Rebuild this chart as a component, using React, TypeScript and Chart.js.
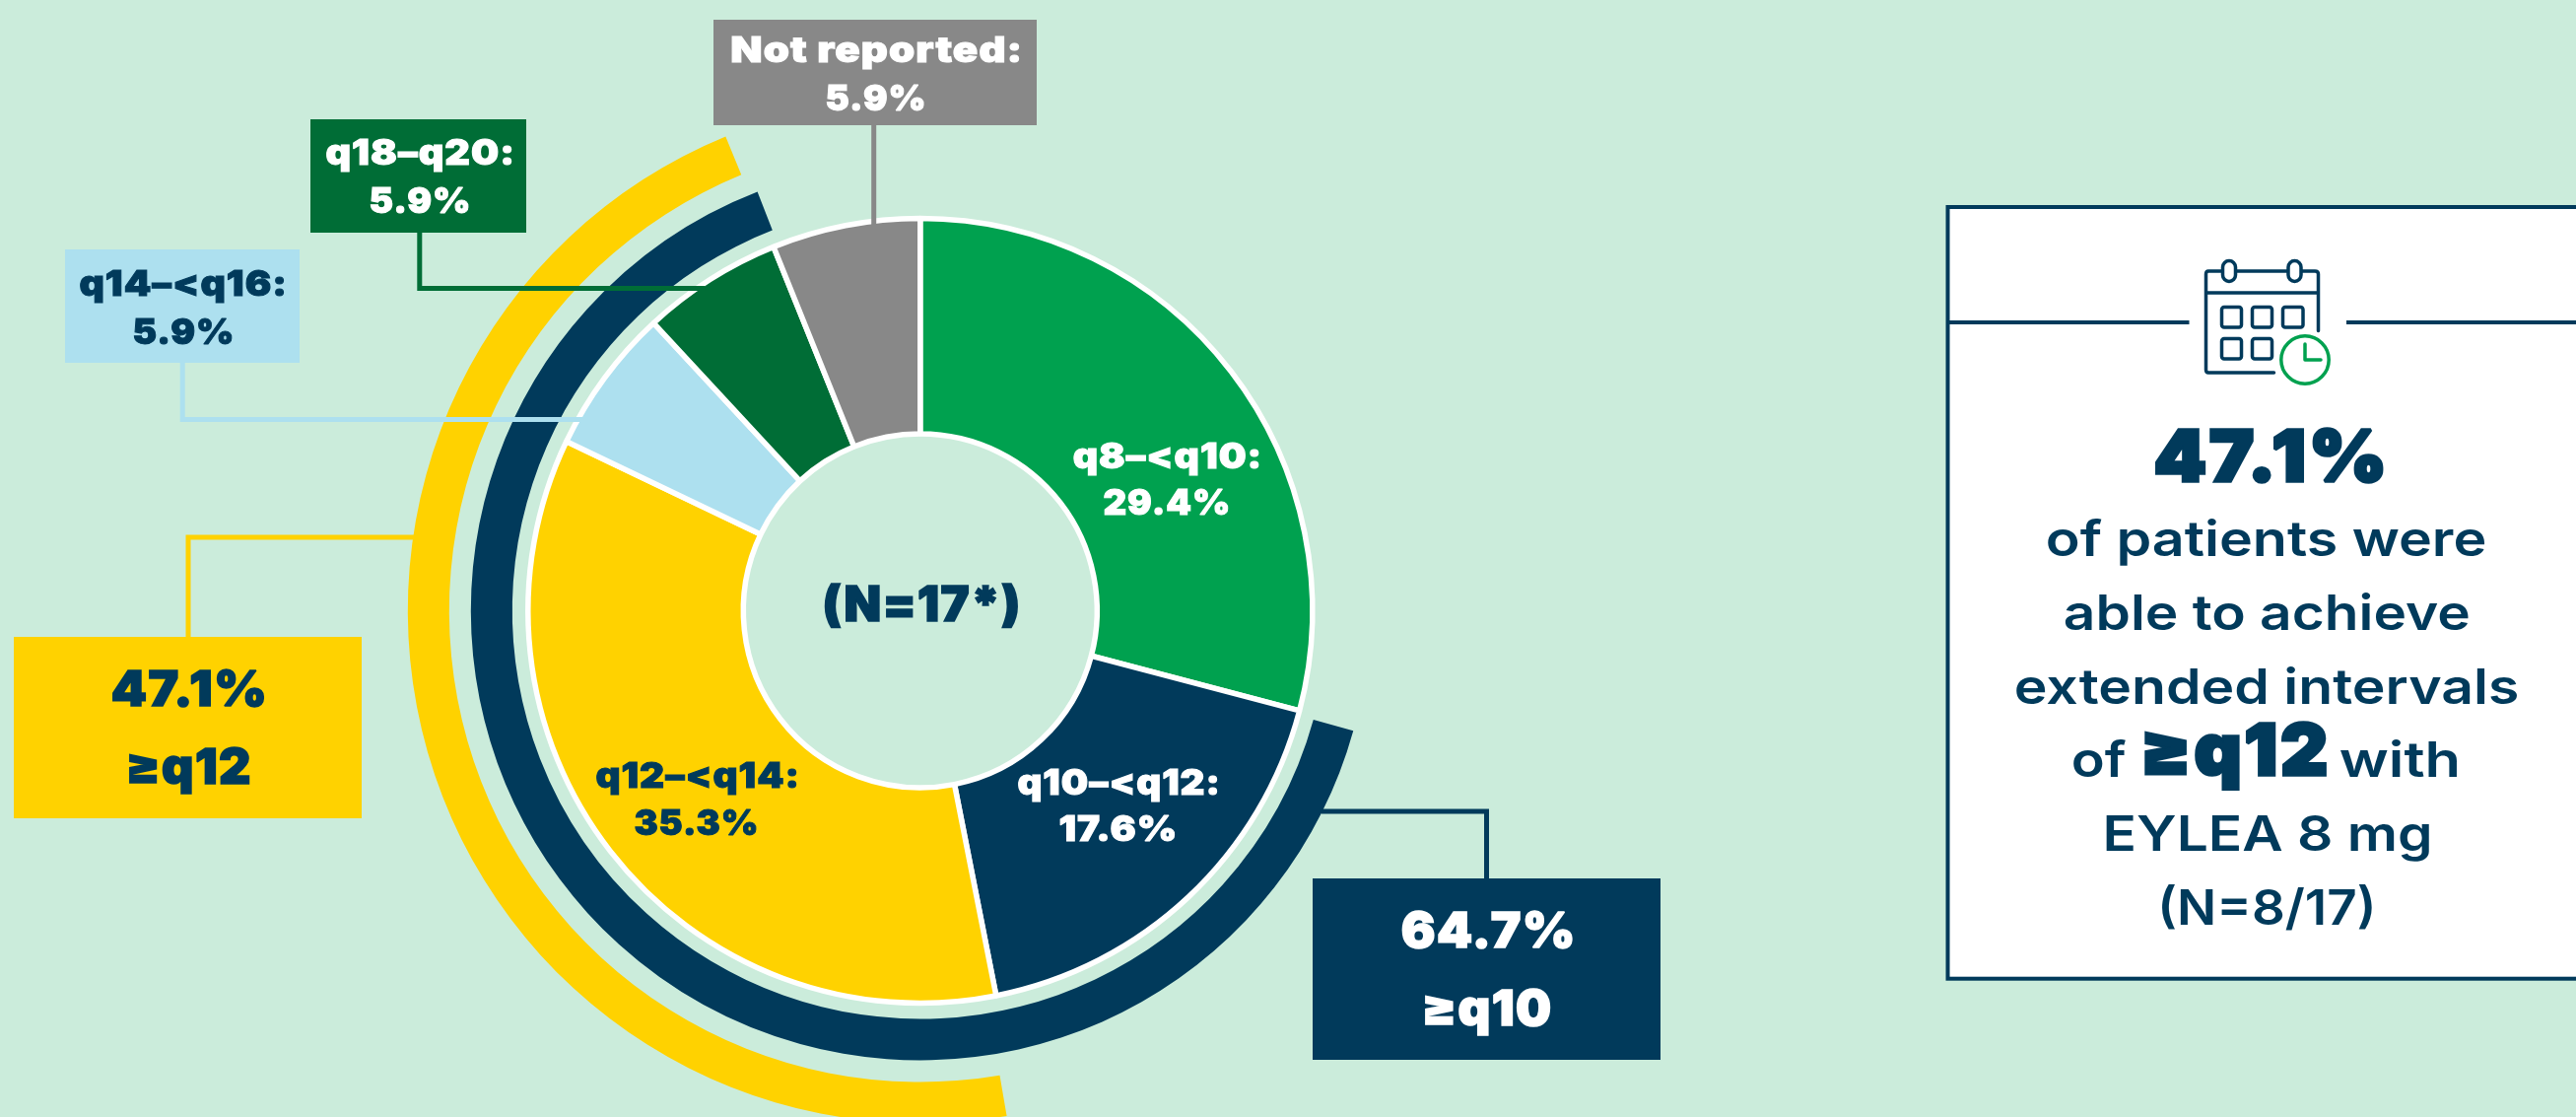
import React, { useEffect, useRef } from "react";
import { Chart, registerables } from "chart.js";

Chart.register(...registerables);

// ---- data ----
const categories = ["q8–<q10", "q10–<q12", "q12–<q14", "q14–<q16", "q18–q20", "Not reported"];
// percentages as printed on the picture
const sliceLabels = [29.4, 17.6, 35.3, 5.9, 5.9, 5.9];
// slice sizes as they are actually drawn in the picture (measured from the slice angles)
const sliceArcs = [29.1, 17.8, 35.2, 6.0, 5.8, 6.1];
const ge10Percent = 64.7;
const ge12Percent = 47.1;
// outer arcs as drawn: [gap before, arc, gap after]
const ge10Ring = [29.3, 64.8, 5.9];
const ge12Ring = [47.3, 46.5, 6.2];
const gapRing = [100];
const ge10Label = "≥q10";
const ge12Label = "≥q12";
const centerLabel = "(N=17*)";
const panelLines = ["of patients were", "able to achieve", "extended intervals", "EYLEA 8 mg", "(N=8/17)"];

// ---- styles & layout ----
const BG = "#CBECDB";
const NAVY = "#013A5B";
const YELLOW = "#FFD200";
const GREEN = "#00A14F";
const DGREEN = "#006D36";
const LBLUE = "#ADE0EF";
const GRAY = "#888888";
const WHITE = "#FFFFFF";
const CLEAR = "rgba(0,0,0,0)";
const sliceColors = [GREEN, NAVY, YELLOW, LBLUE, DGREEN, GRAY];
const FONT = "Inter, 'Noto Sans', sans-serif";

const W = 2614;
const H = 1133;
const CX = 933.8;
const CY = 619.5;
const CANVAS_H = 2 * CY;

type T = { text: string; x0: number; x1: number; y: number; size: number; weight: number; color: string; lw?: number };

const pct = (v: number) => `${v.toFixed(1)}%`;

function fit(ctx: CanvasRenderingContext2D, t: T) {
  const lw = t.lw || 0;
  ctx.save();
  ctx.font = `${t.weight} ${t.size}px ${FONT}`;
  (ctx as any).letterSpacing = `${lw * 0.9}px`;
  ctx.textAlign = "left";
  ctx.textBaseline = "alphabetic";
  ctx.fillStyle = t.color;
  const m = ctx.measureText(t.text);
  const ink = m.actualBoundingBoxRight + m.actualBoundingBoxLeft - lw * 0.9;
  const sx = (t.x1 - t.x0 - lw) / ink;
  ctx.translate(t.x0 + lw / 2 + m.actualBoundingBoxLeft * sx, t.y - lw / 2);
  ctx.scale(sx, 1);
  if (lw) {
    ctx.strokeStyle = t.color;
    ctx.lineWidth = lw;
    ctx.lineJoin = "miter";
    ctx.miterLimit = 2;
    ctx.strokeText(t.text, 0, 0);
  }
  ctx.fillText(t.text, 0, 0);
  ctx.restore();
}

function rect(ctx: CanvasRenderingContext2D, x0: number, y0: number, x1: number, y1: number, c: string) {
  ctx.fillStyle = c;
  ctx.fillRect(x0, y0, x1 - x0, y1 - y0);
}

function poly(ctx: CanvasRenderingContext2D, pts: number[][], c: string, w: number) {
  ctx.strokeStyle = c;
  ctx.lineWidth = w;
  ctx.lineJoin = "miter";
  ctx.lineCap = "butt";
  ctx.beginPath();
  pts.forEach((p, i) => (i ? ctx.lineTo(p[0], p[1]) : ctx.moveTo(p[0], p[1])));
  ctx.stroke();
}

function rrect(ctx: CanvasRenderingContext2D, x0: number, y0: number, x1: number, y1: number, r: number) {
  ctx.beginPath();
  ctx.roundRect(x0, y0, x1 - x0, y1 - y0, r);
  ctx.stroke();
}

function drawIcon(ctx: CanvasRenderingContext2D) {
  ctx.save();
  ctx.strokeStyle = NAVY;
  ctx.lineWidth = 3.5;
  ctx.lineCap = "round";
  ctx.lineJoin = "round";
  ctx.beginPath();
  ctx.moveTo(2352.5, 335.5);
  ctx.lineTo(2352.5, 278);
  ctx.quadraticCurveTo(2352.5, 275, 2349, 275);
  ctx.lineTo(2241, 275);
  ctx.quadraticCurveTo(2238.5, 275, 2238.5, 278);
  ctx.lineTo(2238.5, 375);
  ctx.quadraticCurveTo(2238.5, 378, 2241, 378);
  ctx.lineTo(2307.5, 378);
  ctx.moveTo(2238.5, 297);
  ctx.lineTo(2352.5, 297);
  ctx.stroke();
  ctx.fillStyle = WHITE;
  [[2255.5, 2268.5], [2322, 2335]].forEach(([a, b]) => {
    ctx.beginPath();
    ctx.roundRect(a, 264.5, b - a, 21, 6.5);
    ctx.fill();
    ctx.stroke();
  });
  [[2254.5, 2274.5], [2285.5, 2305.5], [2316.5, 2337]].forEach(([a, b]) => rrect(ctx, a, 311.5, b, 332, 2.5));
  [[2254.5, 2274.5], [2285.5, 2305.5]].forEach(([a, b]) => rrect(ctx, a, 343.5, b, 364, 2.5));
  ctx.strokeStyle = GREEN;
  ctx.beginPath();
  ctx.arc(2339, 365, 24.2, 0, Math.PI * 2);
  ctx.stroke();
  ctx.beginPath();
  ctx.moveTo(2339, 349);
  ctx.lineTo(2339, 365);
  ctx.lineTo(2355, 365);
  ctx.stroke();
  ctx.restore();
}

const overlayPlugin = {
  id: "overlay",
  afterDatasetsDraw(chart: Chart) {
    const ctx = chart.ctx;
    ctx.save();

    // connectors
    poly(ctx, [[886.7, 127], [886.7, 228]], GRAY, 5);
    poly(ctx, [[425.8, 236], [425.8, 292.5], [715.5, 292.5]], DGREEN, 5);
    poly(ctx, [[185.2, 368], [185.2, 425.5], [591, 425.5]], LBLUE, 5);
    poly(ctx, [[191, 646], [191, 545], [420.5, 545]], YELLOW, 5);
    poly(ctx, [[1341, 823], [1508.5, 823], [1508.5, 891]], NAVY, 5);

    // callout boxes
    rect(ctx, 724, 20, 1052, 127, GRAY);
    rect(ctx, 315, 121, 534, 236, DGREEN);
    rect(ctx, 66, 253, 304, 368, LBLUE);
    rect(ctx, 14, 646, 367, 830, YELLOW);
    rect(ctx, 1332, 891, 1685, 1075, NAVY);

    const B = 35.5;
    const BL = 1;
    const L = 50;
    const LL = 1.6;
    const texts: T[] = [
      { text: `${categories[5]}:`, x0: 742, x1: 1034, y: 63, size: B, weight: 900, color: WHITE, lw: BL },
      { text: pct(sliceLabels[5]), x0: 838, x1: 937, y: 112, size: B, weight: 900, color: WHITE, lw: BL },
      { text: `${categories[4]}:`, x0: 331, x1: 519, y: 167, size: B, weight: 900, color: WHITE, lw: BL },
      { text: pct(sliceLabels[4]), x0: 375, x1: 475, y: 216, size: B, weight: 900, color: WHITE, lw: BL },
      { text: `${categories[3]}:`, x0: 81, x1: 288, y: 300, size: B, weight: 900, color: NAVY, lw: BL },
      { text: pct(sliceLabels[3]), x0: 135, x1: 235, y: 349, size: B, weight: 900, color: NAVY, lw: BL },
      { text: pct(ge12Percent), x0: 114, x1: 267, y: 717, size: L, weight: 900, color: NAVY, lw: LL },
      { text: ge12Label, x0: 131, x1: 252.5, y: 796, size: L, weight: 900, color: NAVY, lw: LL },
      { text: pct(ge10Percent), x0: 1422, x1: 1594.6, y: 962, size: L, weight: 900, color: WHITE, lw: LL },
      { text: ge10Label, x0: 1446, x1: 1572, y: 1041, size: L, weight: 900, color: WHITE, lw: LL },
      { text: `${categories[0]}:`, x0: 1089.3, x1: 1277.3, y: 475, size: B, weight: 900, color: WHITE, lw: BL },
      { text: pct(sliceLabels[0]), x0: 1120, x1: 1245.7, y: 522, size: B, weight: 900, color: WHITE, lw: BL },
      { text: `${categories[1]}:`, x0: 1033, x1: 1235, y: 806, size: B, weight: 900, color: WHITE, lw: BL },
      { text: pct(sliceLabels[1]), x0: 1075, x1: 1191.5, y: 853, size: B, weight: 900, color: WHITE, lw: BL },
      { text: `${categories[2]}:`, x0: 605, x1: 808, y: 799, size: B, weight: 900, color: NAVY, lw: BL },
      { text: pct(sliceLabels[2]), x0: 644, x1: 767, y: 847, size: B, weight: 900, color: NAVY, lw: BL },
      { text: centerLabel, x0: 836.7, x1: 1031.7, y: 630.7, size: 49, weight: 900, color: NAVY, lw: 1.6 },
    ];
    texts.forEach((t) => fit(ctx, t));

    // side panel
    rect(ctx, 1976.5, 210, W + 10, 992.7, WHITE);
    ctx.strokeStyle = NAVY;
    ctx.lineWidth = 4;
    ctx.strokeRect(1976.5, 210, W + 10 - 1976.5, 782.7);
    rect(ctx, 1976, 325, 2221.5, 329, NAVY);
    rect(ctx, 2381, 325, W, 329, NAVY);
    drawIcon(ctx);

    const R = 50;
    const RW = 600;
    const BIG = 72;
    const BIGL = 3.5;
    const panel: T[] = [
      { text: pct(ge12Percent), x0: 2186, x1: 2415, y: 490, size: BIG, weight: 900, color: NAVY, lw: BIGL },
      { text: panelLines[0], x0: 2078, x1: 2521.5, y: 564.3, size: R, weight: RW, color: NAVY },
      { text: panelLines[1], x0: 2095, x1: 2505, y: 639, size: R, weight: RW, color: NAVY },
      { text: panelLines[2], x0: 2046, x1: 2554.6, y: 714, size: R, weight: RW, color: NAVY },
      { text: "of", x0: 2104, x1: 2157, y: 788, size: R, weight: RW, color: NAVY },
      { text: ge12Label, x0: 2175.5, x1: 2358, y: 788, size: BIG, weight: 900, color: NAVY, lw: BIGL },
      { text: "with", x0: 2375, x1: 2494, y: 788, size: R, weight: RW, color: NAVY },
      { text: panelLines[3], x0: 2137, x1: 2465, y: 863, size: R, weight: RW, color: NAVY },
      { text: panelLines[4], x0: 2193.6, x1: 2407.6, y: 938, size: R, weight: RW, color: NAVY },
    ];
    panel.forEach((t) => fit(ctx, t));
    ctx.restore();
  },
};

export default function App() {
  const ref = useRef<HTMLCanvasElement>(null);

  useEffect(() => {
    if (!ref.current) return;
    document.body.style.margin = "0";
    document.body.style.background = BG;
    const chart = new Chart(ref.current, {
      type: "doughnut",
      data: {
        labels: categories,
        datasets: [
          { data: ge12Ring, backgroundColor: [CLEAR, YELLOW, CLEAR], borderWidth: 0, weight: 42 },
          { data: gapRing, backgroundColor: [CLEAR], borderWidth: 0, weight: 22 },
          { data: ge10Ring, backgroundColor: [CLEAR, NAVY, CLEAR], borderWidth: 0, weight: 42 },
          { data: gapRing, backgroundColor: [CLEAR], borderWidth: 0, weight: 16 },
          { data: sliceArcs, backgroundColor: sliceColors, borderColor: WHITE, borderWidth: 5.5, weight: 218.5 },
        ],
      },
      options: {
        animation: false,
        responsive: false,
        devicePixelRatio: 1,
        radius: 520,
        cutout: `${(179.5 / 520) * 100}%`,
        layout: { padding: { left: 0, right: W - 2 * CX, top: 0, bottom: 0 } },
        plugins: { legend: { display: false }, tooltip: { enabled: false }, title: { display: false } },
        events: [],
      },
      plugins: [overlayPlugin],
    } as any);
    return () => chart.destroy();
  }, []);

  return (
    <div style={{ position: "fixed", left: 0, top: 0, width: W, height: H, overflow: "hidden", background: BG }}>
      <canvas ref={ref} width={W} height={CANVAS_H} style={{ display: "block", width: W, height: CANVAS_H }} />
    </div>
  );
}
